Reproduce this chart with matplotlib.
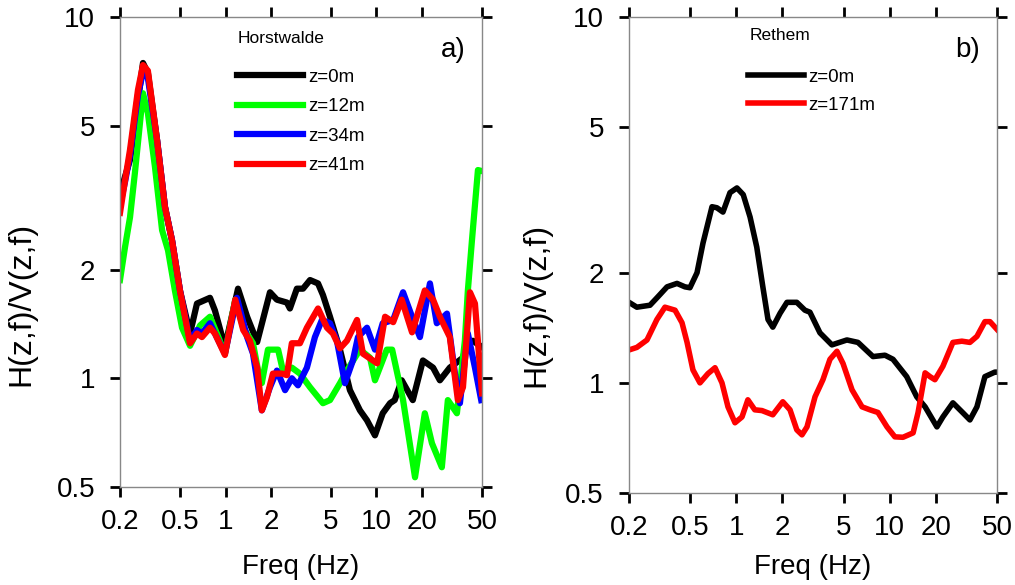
import matplotlib
matplotlib.use("Agg")
import matplotlib.pyplot as plt
from matplotlib.ticker import FixedLocator, FixedFormatter, NullLocator

plt.rcParams['font.family'] = ['Liberation Sans', 'DejaVu Sans']

# ---------------- Data: Horstwalde (panel a) ----------------
f_h0 = [0.2, 0.233, 0.284, 0.306, 0.352, 0.397, 0.442, 0.499, 0.582, 0.647, 0.789, 0.851, 0.991,
        1.21, 1.39, 1.62, 1.97, 2.19, 2.55, 2.67, 2.97, 3.26, 3.63, 4.10, 4.42, 4.92, 5.73, 6.67,
        7.77, 8.65, 9.77, 11.0, 12.3, 13.2, 14.7, 17.4, 20.3, 23.7, 26.3, 30.6, 37.4, 39.7, 43.5, 50]
H_h0 = [3.25, 4.02, 7.46, 7.0, 4.56, 2.98, 2.41, 1.75, 1.33, 1.61, 1.67, 1.54, 1.22,
        1.77, 1.48, 1.26, 1.73, 1.65, 1.62, 1.56, 1.77, 1.77, 1.87, 1.83, 1.70, 1.48, 1.20, 0.927,
        0.815, 0.765, 0.695, 0.80, 0.853, 0.87, 0.987, 0.87, 1.12, 1.07, 0.987, 1.07, 1.14, 1.25, 1.27, 1.22]

f_h12 = [0.2, 0.216, 0.233, 0.251, 0.284, 0.306, 0.341, 0.380, 0.416, 0.462, 0.515, 0.582, 0.678,
         0.789, 0.877, 0.991, 1.16, 1.31, 1.52, 1.69, 1.74, 1.91, 2.23, 2.40, 2.75, 3.11, 3.63,
         4.42, 4.92, 5.73, 6.37, 7.77, 9.06, 9.77, 11.7, 12.7, 15.0, 18.0, 20.9, 23.3, 27.1, 29.7,
         34.1, 38.5, 40.3, 42.9, 47.0, 49.4]
H_h12 = [1.87, 2.31, 2.79, 3.70, 6.15, 5.42, 3.84, 2.57, 2.26, 1.75, 1.38, 1.23, 1.40,
         1.48, 1.33, 1.17, 1.65, 1.38, 1.25, 0.987, 0.97, 1.20, 1.20, 1.05, 1.07, 1.03, 0.944,
         0.853, 0.87, 0.969, 1.05, 1.20, 1.14, 0.987, 1.20, 1.20, 0.87, 0.532, 0.80, 0.661, 0.567, 0.87,
         0.80, 1.27, 1.75, 2.41, 3.77, 3.75]

f_h34 = [0.2, 0.216, 0.233, 0.263, 0.284, 0.306, 0.352, 0.397, 0.442, 0.499, 0.582, 0.647, 0.698,
         0.789, 0.851, 0.991, 1.19, 1.39, 1.52, 1.74, 1.97, 2.19, 2.48, 2.75, 3.02, 3.46, 3.91,
         4.35, 4.92, 5.47, 6.18, 6.98, 7.54, 8.65, 9.77, 11.0, 12.9, 15.0, 17.2, 19.4, 22.6, 25.1,
         29.3, 33.1, 35.7, 40.3, 44.9, 49.4]
H_h34 = [3.01, 3.5, 4.15, 6.08, 7.04, 6.78, 4.56, 2.98, 2.41, 1.75, 1.27, 1.36, 1.33,
         1.42, 1.33, 1.17, 1.67, 1.30, 1.17, 0.815, 0.944, 1.05, 0.927, 1.0, 0.956, 1.07, 1.30,
         1.45, 1.42, 1.27, 0.969, 1.12, 1.30, 1.38, 1.20, 1.42, 1.45, 1.73, 1.48, 1.30, 1.83, 1.42,
         1.51, 1.03, 0.853, 1.33, 1.07, 0.87]

f_h41 = [0.2, 0.216, 0.233, 0.263, 0.284, 0.306, 0.352, 0.397, 0.442, 0.499, 0.582, 0.647, 0.698,
         0.789, 0.851, 0.991, 1.16, 1.31, 1.45, 1.62, 1.74, 1.88, 2.06, 2.37, 2.55, 2.75, 3.11,
         3.46, 4.10, 4.70, 5.15, 5.73, 6.37, 7.43, 8.13, 10.1, 11.4, 12.9, 14.7, 17.2, 20.9, 23.7,
         26.3, 30.6, 34.6, 37.4, 41.6, 44.9, 50]
H_h41 = [2.87, 3.53, 4.29, 6.28, 7.36, 7.1, 4.56, 2.98, 2.41, 1.75, 1.25, 1.33, 1.30,
         1.38, 1.33, 1.16, 1.65, 1.36, 1.27, 1.07, 0.815, 0.886, 1.03, 1.03, 1.02, 1.25, 1.25,
         1.38, 1.56, 1.38, 1.33, 1.21, 1.27, 1.45, 1.17, 1.10, 1.48, 1.43, 1.65, 1.34, 1.75, 1.65,
         1.48, 1.30, 0.87, 0.944, 1.73, 1.61, 0.908]

# ---------------- Data: Rethem (panel b) ----------------
f_r0 = [0.2, 0.225, 0.274, 0.309, 0.354, 0.411, 0.463, 0.499, 0.555, 0.607, 0.695, 0.748, 0.819,
        0.910, 1.01, 1.11, 1.23, 1.36, 1.49, 1.61, 1.73, 1.93, 2.14, 2.48, 2.80, 3.02, 3.51, 4.20,
        5.26, 6.21, 7.78, 9.31, 10.5, 12.9, 15.0, 17.0, 20.3, 22.2, 25.8, 30.0, 33.3, 37.0, 41.7, 48.4, 50]
H_r0 = [1.66, 1.61, 1.63, 1.72, 1.83, 1.87, 1.83, 1.82, 2.0, 2.41, 3.03, 3.01, 2.93,
        3.31, 3.41, 3.27, 2.84, 2.35, 1.83, 1.49, 1.42, 1.55, 1.66, 1.66, 1.58, 1.56, 1.37, 1.27,
        1.31, 1.29, 1.18, 1.19, 1.16, 1.04, 0.916, 0.86, 0.758, 0.807, 0.882, 0.828, 0.792, 0.86, 1.04, 1.07, 1.07]

f_r171 = [0.2, 0.225, 0.262, 0.304, 0.343, 0.399, 0.443, 0.478, 0.522, 0.580, 0.654, 0.727, 0.807,
          0.883, 0.981, 1.09, 1.19, 1.32, 1.47, 1.73, 2.01, 2.24, 2.48, 2.68, 2.89, 3.26, 3.67, 4.08,
          4.53, 4.96, 5.68, 6.60, 7.43, 8.38, 9.60, 10.8, 12.2, 14.2, 15.3, 17.0, 18.3, 19.7, 22.2,
          25.8, 29.5, 33.3, 37.0, 41.7, 45.0, 50]
H_r171 = [1.23, 1.25, 1.31, 1.49, 1.61, 1.58, 1.46, 1.29, 1.085, 1.0, 1.06, 1.10, 1.0,
          0.86, 0.778, 0.807, 0.899, 0.844, 0.84, 0.818, 0.888, 0.844, 0.744, 0.721, 0.758, 0.916, 1.02, 1.16,
          1.22, 1.13, 0.957, 0.86, 0.844, 0.83, 0.758, 0.712, 0.71, 0.73, 0.83, 1.065, 1.04, 1.02, 1.11,
          1.29, 1.30, 1.29, 1.34, 1.47, 1.47, 1.40]

xticks = [0.2, 0.5, 1, 2, 5, 10, 20, 50]
xticklabels = ['0.2', '0.5', '1', '2', '5', '10', '20', '50']
yticks = [0.5, 1, 2, 5, 10]
yticklabels = ['0.5', '1', '2', '5', '10']

W, H = 1015, 585
fig = plt.figure(figsize=(W / 100, H / 100), dpi=100)
axA = fig.add_axes([120 / W, (H - 487) / H, 362 / W, 470 / H])
axB = fig.add_axes([629 / W, (H - 493) / H, 368 / W, 476 / H])


def style(ax, xlab_y, ylab_xy):
    ax.set_xscale('log')
    ax.set_yscale('log')
    ax.set_xlim(0.2, 50)
    ax.set_ylim(0.5, 10)
    ax.xaxis.set_major_locator(FixedLocator(xticks))
    ax.xaxis.set_major_formatter(FixedFormatter(xticklabels))
    ax.yaxis.set_major_locator(FixedLocator(yticks))
    ax.yaxis.set_major_formatter(FixedFormatter(yticklabels))
    ax.xaxis.set_minor_locator(NullLocator())
    ax.yaxis.set_minor_locator(NullLocator())
    ax.tick_params(which='major', direction='out', length=7, width=2, color='black',
                   top=True, right=True, labelsize=20)
    ax.tick_params(axis='x', pad=9)
    ax.tick_params(axis='y', pad=11)
    for s in ax.spines.values():
        s.set_color('#888888')
        s.set_linewidth(1)
    ax.set_xlabel('Freq (Hz)', fontsize=20)
    ax.xaxis.set_label_coords(0.5, xlab_y)
    ax.set_ylabel('H(z,f)/V(z,f)', fontsize=23)
    ax.yaxis.set_label_coords(*ylab_xy)


style(axA, -0.142, (-0.232, 0.39))
style(axB, -0.128, (-0.212, 0.395))

lwA = 4.5
axA.plot(f_h0, H_h0, color='black', lw=lwA, label='z=0m')
axA.plot(f_h12, H_h12, color='#00ff00', lw=lwA, label='z=12m')
axA.plot(f_h34, H_h34, color='#0000ff', lw=lwA, label='z=34m')
axA.plot(f_h41, H_h41, color='#ff0000', lw=lwA, label='z=41m')

lwB = 4.0
axB.plot(f_r0, H_r0, color='black', lw=lwB, label='z=0m')
axB.plot(f_r171, H_r171, color='#ff0000', lw=lwB, label='z=171m')

legA = axA.legend(loc='upper left', bbox_to_anchor=(0.323, 0.89), frameon=False, fontsize=13.5,
                  handlelength=3.5, handletextpad=0.28, labelspacing=0.66,
                  borderaxespad=0, borderpad=0)
axA.text(0.325, 0.955, 'Horstwalde', transform=axA.transAxes, fontsize=12.5,
         ha='left', va='center')

legB = axB.legend(loc='upper left', bbox_to_anchor=(0.323, 0.892), frameon=False, fontsize=13.5,
                  handlelength=3.0, handletextpad=0.22, labelspacing=0.58,
                  borderaxespad=0, borderpad=0)
axB.text(0.329, 0.962, 'Rethem', transform=axB.transAxes, fontsize=12.5,
         ha='left', va='center')

axA.text(0.955, 0.93, 'a)', transform=axA.transAxes, fontsize=20, ha='right', va='center')
axB.text(0.955, 0.93, 'b)', transform=axB.transAxes, fontsize=20, ha='right', va='center')

fig.savefig('out.png', dpi=100)
